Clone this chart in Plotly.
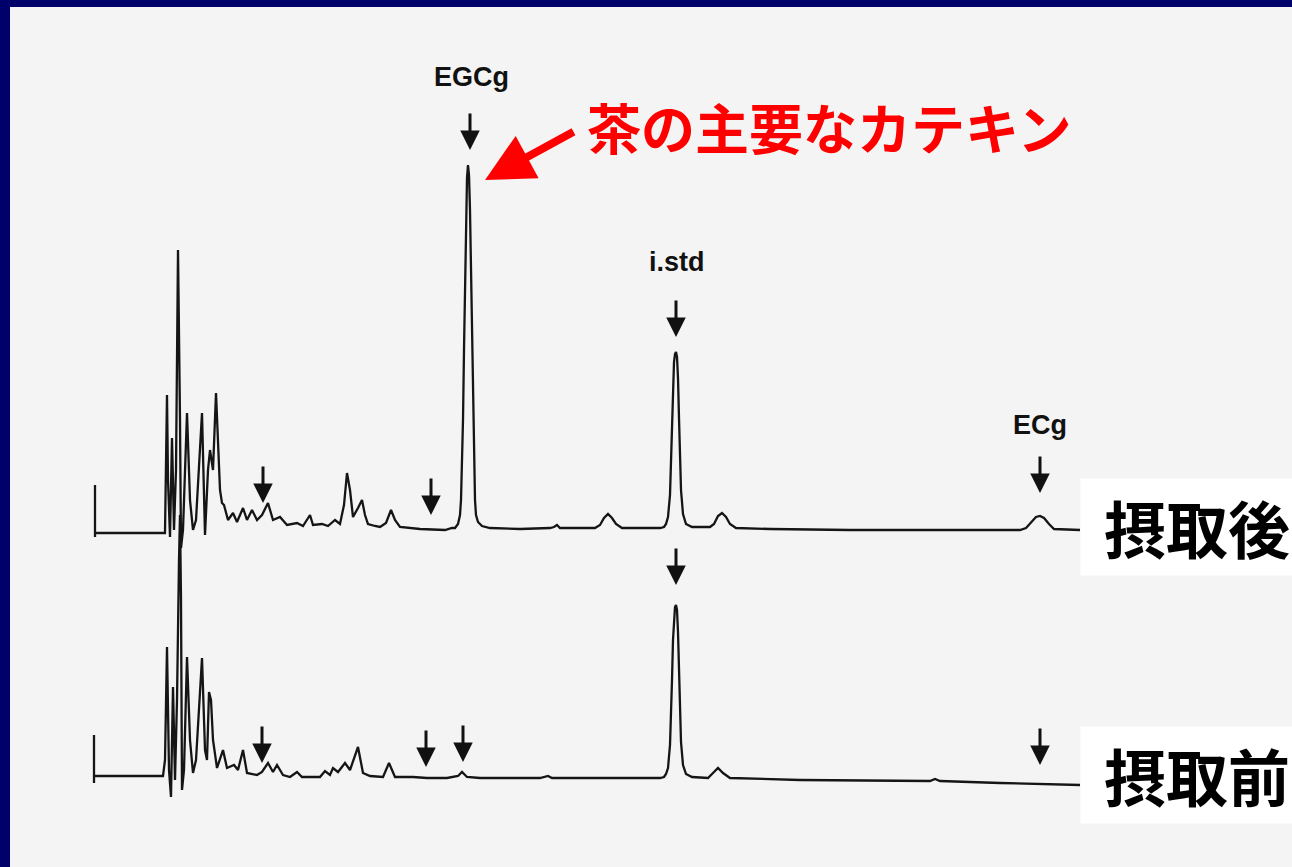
import plotly.graph_objects as go

# Digitized chromatograms (retention position, detector response)
after_x = [95, 95, 95, 165, 166, 167, 168, 170, 172, 174, 176, 178, 180, 181, 183, 187, 190, 193, 196, 202,
           205, 208, 210, 213, 216, 218, 220, 222, 224, 228, 233, 237, 243, 247, 252, 257, 262, 268, 273, 280,
           287, 297, 303, 310, 313, 322, 328, 335, 340, 344, 347, 350, 353, 358, 362, 365, 368, 375, 380, 386,
           391, 395, 400, 420, 445, 452, 455, 458, 460, 461, 462, 463, 464, 465, 466, 467, 468, 469, 470, 471,
           472, 473, 474, 475, 476, 478, 482, 490, 520, 550, 554, 557, 560, 595, 600, 604, 608, 612, 616, 622,
           660, 664, 666, 668, 670, 671, 672, 673, 674, 675, 676, 677, 678, 679, 680, 681, 683, 686, 692, 710,
           714, 718, 722, 726, 730, 736, 770, 850, 950, 1020, 1026, 1031, 1036, 1040, 1044, 1049, 1054, 1080]
after_y = [382, 330, 334, 334, 387, 472, 387, 330, 429, 337, 397, 617, 447, 319, 337, 454, 367, 337, 347, 454,
           332, 397, 417, 397, 474, 417, 377, 364, 362, 347, 354, 345, 359, 347, 357, 347, 352, 364, 347, 350,
           342, 344, 341, 352, 342, 343, 341, 347, 343, 362, 394, 377, 350, 359, 367, 352, 343, 341, 340, 344,
           357, 347, 340, 338, 337, 339, 339, 343, 352, 367, 397, 447, 517, 587, 652, 689, 702, 692, 657, 597,
           527, 457, 402, 367, 352, 345, 341, 339, 338, 339, 340, 342, 339, 339, 342, 349, 353, 349, 343, 339,
           339, 340, 343, 350, 372, 402, 442, 482, 505, 513, 515, 510, 489, 449, 409, 377, 353, 343, 340, 340,
           343, 351, 354, 350, 343, 339, 338, 337, 337, 337, 339, 345, 350, 351, 349, 343, 338, 337]

before_x = [94, 94, 94, 163, 165, 167, 169, 171, 173, 175, 177, 179, 180, 181, 182, 184, 187, 190, 193, 196,
            202, 205, 207, 209, 211, 213, 217, 223, 227, 234, 238, 243, 247, 257, 262, 268, 273, 277, 283, 290,
            297, 302, 320, 325, 330, 333, 338, 345, 350, 358, 363, 370, 383, 389, 395, 413, 427, 447, 458, 462,
            467, 480, 540, 548, 552, 660, 664, 666, 668, 670, 671, 672, 673, 674, 675, 676, 677, 678, 679, 680,
            681, 683, 686, 692, 708, 713, 718, 723, 730, 800, 900, 930, 935, 940, 1000, 1080]
before_y = [132, 84, 91, 91, 107, 220, 97, 70, 180, 87, 167, 307, 352, 267, 77, 97, 210, 127, 94, 107,
            209, 117, 107, 175, 167, 127, 99, 117, 99, 102, 97, 117, 94, 92, 95, 104, 95, 102, 92, 90,
            95, 90, 90, 96, 92, 99, 95, 104, 97, 120, 94, 91, 90, 104, 90, 90, 89, 89, 91, 95,
            90, 89, 89, 91, 89, 89, 90, 93, 99, 122, 149, 187, 227, 252, 260, 262, 257, 235, 197, 157,
            125, 102, 93, 90, 89, 94, 99, 94, 89, 87, 86, 86, 88, 86, 84, 82]

# Peak marker arrows (tip position)
after_arrow_x = [263, 431, 470, 676, 1040]
after_arrow_y = [364, 352, 717, 530, 374]
before_arrow_x = [262, 426, 463, 676, 1040]
before_arrow_y = [104, 100, 105, 282, 102]

peak_labels = ["EGCg", "i.std", "ECg"]
peak_label_x = [471, 677, 1040]
peak_label_y = [790, 605, 442]

title_text = "茶の主要なカテキン"
sample_labels = ["摂取後", "摂取前"]
sample_label_y = [340, 92]

LINE = "#151515"
fig = go.Figure()
fig.add_trace(go.Scatter(x=after_x, y=after_y, mode="lines",
                         line=dict(color=LINE, width=2.3), hoverinfo="skip"))
fig.add_trace(go.Scatter(x=before_x, y=before_y, mode="lines",
                         line=dict(color=LINE, width=2.3), hoverinfo="skip"))

for ax_, ay_ in list(zip(after_arrow_x, after_arrow_y)) + list(zip(before_arrow_x, before_arrow_y)):
    fig.add_annotation(x=ax_, y=ay_, text="", showarrow=True, ax=0, ay=-38,
                       arrowhead=2, arrowsize=1.3, arrowwidth=3, arrowcolor="#111111")

for t, lx, ly in zip(peak_labels, peak_label_x, peak_label_y):
    fig.add_annotation(x=lx, y=ly, text=f"<b>{t}</b>", showarrow=False,
                       font=dict(family="Liberation Sans, Arial, sans-serif", size=27, color="#111111"))

# Red callout
fig.add_annotation(x=829, y=741, text=f"<b>{title_text}</b>", showarrow=False,
                   font=dict(family="Noto Sans CJK JP", size=54, color="#ff0000"))
fig.add_annotation(x=485, y=687, ax=575, ay=736, axref="x", ayref="y", text="",
                   showarrow=True, arrowhead=2, arrowsize=1.2, arrowwidth=8, arrowcolor="#ff0000")

for t, ly in zip(sample_labels, sample_label_y):
    fig.add_annotation(x=1080, y=ly, xanchor="left", yanchor="middle", text=f"<b>{t}</b>",
                       showarrow=False, width=232, height=96, bgcolor="white", borderpad=0,
                       font=dict(family="Noto Sans CJK JP", size=62, color="#000000"))

fig.update_layout(
    width=1292, height=867,
    margin=dict(l=10, r=0, t=7, b=0),
    paper_bgcolor="#00006a", plot_bgcolor="#f4f4f4",
    showlegend=False,
    xaxis=dict(range=[10, 1292], visible=False, showgrid=False, zeroline=False),
    yaxis=dict(range=[0, 860], visible=False, showgrid=False, zeroline=False),
)
fig.write_html("out.html")
